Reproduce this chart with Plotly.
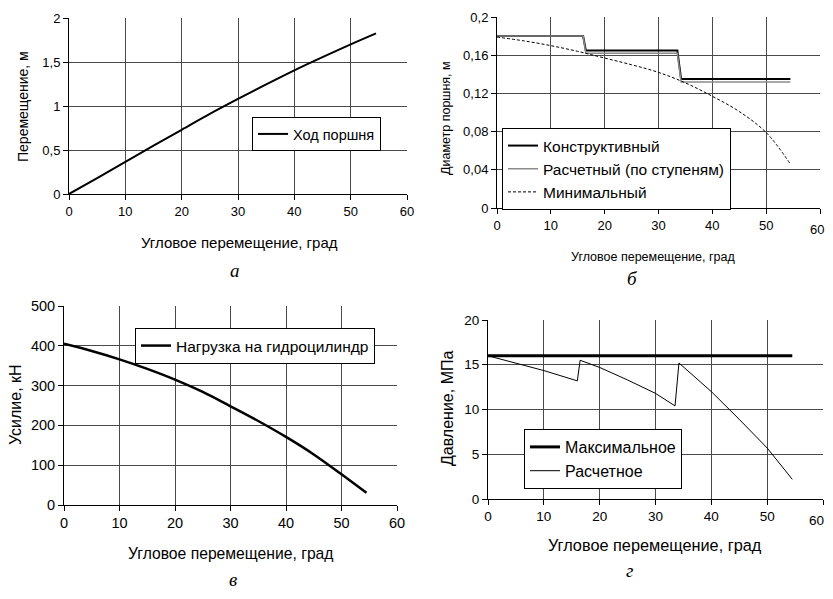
import plotly.graph_objects as go

# ---------- data ----------
angle = [0, 5, 10, 15, 20, 25, 30, 35, 40, 45, 50, 54.5]

# (а) piston stroke, m
stroke = [0, 0.18, 0.365, 0.55, 0.73, 0.91, 1.08, 1.245, 1.405, 1.555, 1.70, 1.825]

# (б) piston diameter, m
step_angle = [0, 16, 16.5, 33.5, 34.2, 54.5]
d_constr = [0.18, 0.18, 0.165, 0.165, 0.135, 0.135]
d_calc = [0.18, 0.18, 0.162, 0.162, 0.132, 0.132]
d_min = [0.179, 0.175, 0.170, 0.164, 0.157, 0.150, 0.142, 0.131, 0.117, 0.101, 0.079, 0.046]

# (в) load, kN
force = [405, 387, 366, 342, 315, 284, 248, 211, 171, 127, 77, 31]

# (г) pressure, MPa
p_max_angle = [0, 54.5]
p_max = [16, 16]
p_angle = [0, 10, 16, 16.5, 20, 25, 30, 33.5, 34.2, 40, 45, 50, 54.5]
p_calc = [16, 14.35, 13.2, 15.5, 14.7, 13.3, 11.8, 10.4, 15.2, 12.0, 8.9, 5.7, 2.2]

x_ticks = [0, 10, 20, 30, 40, 50, 60]
x_ticktext = ["0", "10", "20", "30", "40", "50", "60"]
# right-hand panels: last label drawn as separate text so it stays inside the page
x_ticktext_edge = ["0", "10", "20", "30", "40", "50", ""]
ya_ticks = [0, 0.5, 1, 1.5, 2]
ya_text = ["0", "0,5", "1", "1,5", "2"]
yb_ticks = [0, 0.04, 0.08, 0.12, 0.16, 0.2]
yb_text = ["0", "0,04", "0,08", "0,12", "0,16", "0,2"]
yc_ticks = [0, 100, 200, 300, 400, 500]
yc_text = ["0", "100", "200", "300", "400", "500"]
yd_ticks = [0, 5, 10, 15, 20]
yd_text = ["0", "5", "10", "15", "20"]

xtitle = "Угловое перемещение, град"

OFF = 8
W, H = 833 - 2 * OFF, 599 - 2 * OFF
FONT = "Liberation Sans, Arial, sans-serif"
SERIF = "Liberation Serif, Times New Roman, serif"
GRID = "#4a4a4a"


def dx(px):
    return (px - OFF) / W


def dy(py):
    return 1 - (py - OFF) / H


fig = go.Figure()

# а
fig.add_trace(go.Scatter(x=angle, y=stroke, mode="lines", name="Ход поршня",
                         line=dict(color="black", width=2, shape="spline"),
                         xaxis="x", yaxis="y", legend="legend"))
# б
fig.add_trace(go.Scatter(x=step_angle, y=d_constr, mode="lines", name="Конструктивный",
                         line=dict(color="black", width=2), xaxis="x2", yaxis="y2",
                         legend="legend2"))
fig.add_trace(go.Scatter(x=step_angle, y=d_calc, mode="lines", name="Расчетный (по ступеням)",
                         line=dict(color="#8a8a8a", width=1.5), xaxis="x2", yaxis="y2",
                         legend="legend2"))
fig.add_trace(go.Scatter(x=angle, y=d_min, mode="lines", name="Минимальный",
                         line=dict(color="black", width=1, dash="3px,2px", shape="spline"),
                         xaxis="x2", yaxis="y2", legend="legend2"))
# в
fig.add_trace(go.Scatter(x=angle, y=force, mode="lines", name="Нагрузка на гидроцилиндр",
                         line=dict(color="black", width=2.5, shape="spline"),
                         xaxis="x3", yaxis="y3", legend="legend3"))
# г
fig.add_trace(go.Scatter(x=p_max_angle, y=p_max, mode="lines", name="Максимальное",
                         line=dict(color="black", width=3), xaxis="x4", yaxis="y4",
                         legend="legend4"))
fig.add_trace(go.Scatter(x=p_angle, y=p_calc, mode="lines", name="Расчетное",
                         line=dict(color="black", width=1), xaxis="x4", yaxis="y4",
                         legend="legend4"))


def xaxis(domain, anchor, fs, tt):
    return dict(domain=domain, anchor=anchor, range=[0, 60], tickvals=x_ticks,
                ticktext=tt, showline=True, linecolor="black", linewidth=1,
                ticks="outside", ticklen=5, tickcolor="black", showgrid=True,
                gridcolor=GRID, gridwidth=1, zeroline=False,
                tickfont=dict(size=fs, color="black"), fixedrange=True)


def yaxis(domain, anchor, rng, tv, tt, fs):
    return dict(domain=domain, anchor=anchor, range=rng, tickvals=tv, ticktext=tt,
                showline=True, linecolor="black", linewidth=1, ticks="outside",
                ticklen=5, tickcolor="black", showgrid=True, gridcolor=GRID,
                gridwidth=1, zeroline=False, tickfont=dict(size=fs, color="black"),
                fixedrange=True)


fig.update_layout(
    width=W, height=H, margin=dict(l=0, r=0, t=0, b=0, autoexpand=False),
    paper_bgcolor="white", plot_bgcolor="white",
    font=dict(family=FONT, color="black"),
    xaxis=xaxis([dx(69), dx(407)], "y", 13, x_ticktext),
    yaxis=yaxis([dy(194), dy(18)], "x", [0, 2], ya_ticks, ya_text, 13),
    xaxis2=xaxis([dx(497), dx(820)], "y2", 13, x_ticktext_edge),
    yaxis2=yaxis([dy(208), dy(17)], "x2", [0, 0.2], yb_ticks, yb_text, 13),
    xaxis3=xaxis([dx(64), dx(397)], "y3", 14.5, x_ticktext),
    yaxis3=yaxis([dy(505), dy(306)], "x3", [0, 500], yc_ticks, yc_text, 14.5),
    xaxis4=xaxis([dx(488), dx(823)], "y4", 13.5, x_ticktext_edge),
    yaxis4=yaxis([dy(499), dy(320)], "x4", [0, 20], yd_ticks, yd_text, 13.5),
    showlegend=True,
)

leg_common = dict(bgcolor="white", bordercolor="black", borderwidth=1,
                  xanchor="left", yanchor="top", xref="paper", yref="paper",
                  tracegroupgap=0, itemclick=False, itemdoubleclick=False)
fig.update_layout(
    legend=dict(x=dx(252), y=dy(117), font=dict(size=14.5), **leg_common),
    legend2=dict(x=dx(502), y=dy(128), font=dict(size=15.5), **leg_common),
    legend3=dict(x=dx(135), y=dy(328), font=dict(size=15.5), **leg_common),
    legend4=dict(x=dx(524), y=dy(429), font=dict(size=16), **leg_common),
)

annots = [
    # x titles
    dict(x=dx(239), y=dy(242), text=xtitle, font=dict(size=15)),
    dict(x=dx(653), y=dy(257), text=xtitle, font=dict(size=12.5)),
    dict(x=dx(230), y=dy(553), text=xtitle, font=dict(size=15.7)),
    dict(x=dx(655), y=dy(545), text=xtitle, font=dict(size=16.3)),
    # y titles
    dict(x=dx(23), y=dy(107), text="Перемещение, м", textangle=-90, font=dict(size=14)),
    dict(x=dx(446), y=dy(118), text="Диаметр поршня, м", textangle=-90, font=dict(size=12.5)),
    dict(x=dx(15), y=dy(405), text="Усилие, кН", textangle=-90, font=dict(size=16)),
    dict(x=dx(447), y=dy(408), text="Давление, МПа", textangle=-90, font=dict(size=16)),
    # captions
    dict(x=dx(235), y=dy(270), text="<i>а</i>", font=dict(size=19, family=SERIF)),
    dict(x=dx(632), y=dy(278), text="<i>б</i>", font=dict(size=19, family=SERIF)),
    dict(x=dx(629), y=dy(570), text="<i>г</i>", font=dict(size=19, family=SERIF)),
]
for a in annots:
    a.update(xref="paper", yref="paper", showarrow=False, xanchor="center", yanchor="middle")
    fig.add_annotation(**a)

# caption "в" sits at the very bottom of the page
fig.add_annotation(x=dx(233), y=0, xref="paper", yref="paper", text="<i>в</i>",
                   xanchor="center", yanchor="bottom", showarrow=False, borderpad=0,
                   font=dict(size=19, family=SERIF))

# last x tick label ("60") of the right-hand panels, kept inside the page edge
fig.add_annotation(x=1, xref="paper", y=0, yref="y2 domain", text=x_ticktext[-1],
                   xanchor="right", yanchor="top", yshift=-13, showarrow=False,
                   font=dict(size=13), borderpad=0)
fig.add_annotation(x=1, xref="paper", y=0, yref="y4 domain", text=x_ticktext[-1],
                   xanchor="right", yanchor="top", yshift=-13, showarrow=False,
                   font=dict(size=13.5), borderpad=0)

fig.write_html("out.html")
